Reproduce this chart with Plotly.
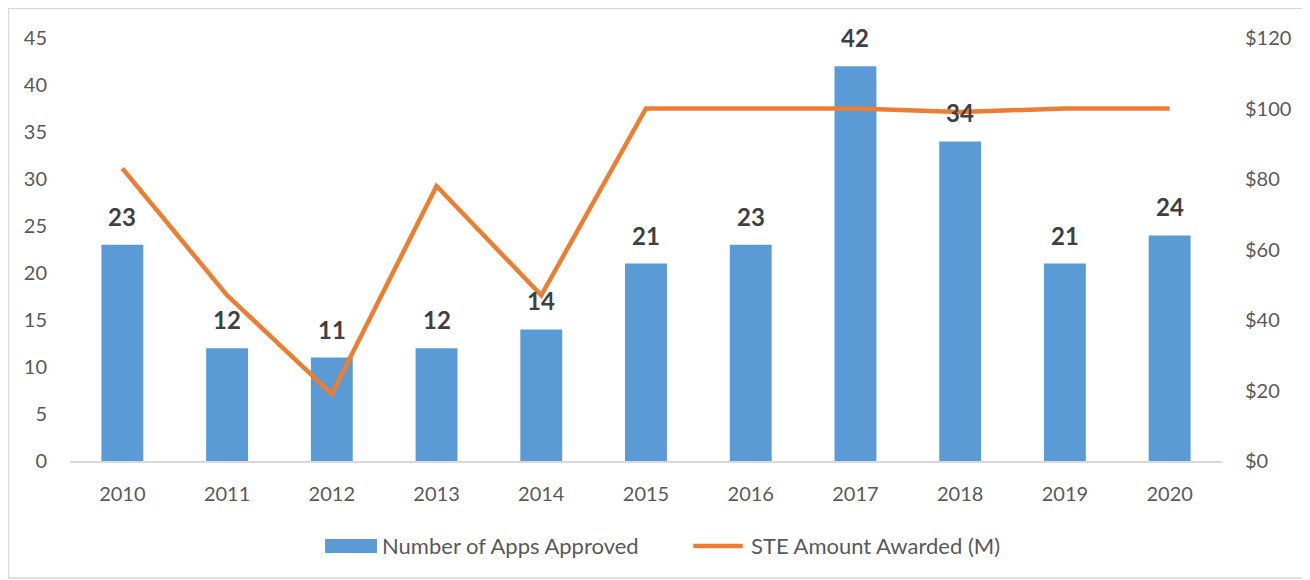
import plotly.graph_objects as go

years = ["2010", "2011", "2012", "2013", "2014", "2015", "2016", "2017", "2018", "2019", "2020"]
apps_approved = [23, 12, 11, 12, 14, 21, 23, 42, 34, 21, 24]
ste_awarded = [83, 47, 19, 78, 47, 100, 100, 100, 99, 100, 100]
left_ticks = [0, 5, 10, 15, 20, 25, 30, 35, 40, 45]
right_ticks = [0, 20, 40, 60, 80, 100, 120]

FONT = "Lato"
TICK = "#595959"
BLUE = "#5b9bd5"
ORANGE = "#ed7d31"

fig = go.Figure()
fig.add_trace(go.Bar(
    x=years, y=apps_approved, name="Number of Apps Approved",
    marker=dict(color=BLUE, line=dict(width=0)), width=0.4, yaxis="y",
))
fig.add_trace(go.Scatter(
    x=years, y=ste_awarded, name="STE Amount Awarded (M)", mode="lines",
    line=dict(color=ORANGE, width=4.5), yaxis="y2",
))

# data labels (category index used for x on the category axis)
for i, v in enumerate(apps_approved):
    fig.add_annotation(x=i, y=v, xref="x", yref="y", text=str(v), showarrow=False, yanchor="bottom",
                       yshift=12, font=dict(family=FONT, size=24, color="#404040", weight="bold"))

# outer chart border
fig.add_shape(type="rect", xref="paper", yref="paper", x0=-0.0534, x1=1.0703, y0=-0.2766, y1=1.0695,
              line=dict(color="#d9d9d9", width=1.5), fillcolor="rgba(0,0,0,0)", layer="below")

# custom legend (Excel style: wide swatch / line)
fig.add_shape(type="rect", xref="paper", yref="paper", x0=0.2214, x1=0.2665, y0=-0.2175, y1=-0.1844,
              line=dict(width=0), fillcolor=BLUE)
fig.add_annotation(xref="paper", yref="paper", x=0.2691, y=-0.2009, xanchor="left", yanchor="middle",
                   text="Number of Apps Approved", showarrow=False,
                   font=dict(family=FONT, size=22, color=TICK))
fig.add_shape(type="line", xref="paper", yref="paper", x0=0.541, x1=0.584, y0=-0.2009, y1=-0.2009,
              line=dict(color=ORANGE, width=4.5))
fig.add_annotation(xref="paper", yref="paper", x=0.5894, y=-0.2009, xanchor="left", yanchor="middle",
                   text="STE Amount Awarded (M)", showarrow=False,
                   font=dict(family=FONT, size=22, color=TICK))

fig.update_layout(
    width=1310, height=580,
    margin=dict(l=62, r=96, t=30, b=127),
    paper_bgcolor="white", plot_bgcolor="white",
    font=dict(family=FONT, color=TICK, size=20),
    showlegend=False,
    xaxis=dict(type="category", range=[-0.5, len(years) - 0.5], showgrid=False, showline=True,
               linecolor="#d9d9d9", linewidth=1.5,
               ticks="", tickfont=dict(size=20, color=TICK), ticklabelstandoff=14),
    yaxis=dict(range=[0, 45], tickvals=left_ticks, showgrid=False, zeroline=False,
               showline=False, tickfont=dict(size=20, color=TICK), ticklabelstandoff=22),
    yaxis2=dict(range=[0, 120], tickvals=right_ticks, ticktext=["$" + str(t) for t in right_ticks],
                overlaying="y", side="right", showgrid=False, zeroline=False, showline=False,
                tickfont=dict(size=20, color=TICK), ticklabelstandoff=22),
)

fig.write_html("out.html")
